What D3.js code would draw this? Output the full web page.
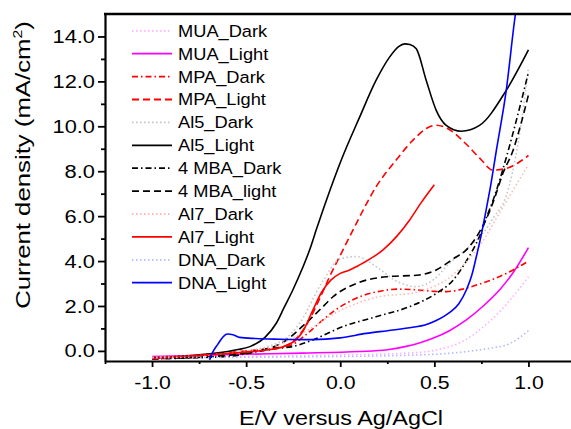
<!DOCTYPE html>
<html><head><meta charset="utf-8">
<script src="https://cdn.jsdelivr.net/npm/d3@7"></script>
<style>body{margin:0;background:#fff}svg{display:block}text{font-family:Arial,"Liberation Sans",sans-serif;fill:#000}</style>
</head><body><svg id="c" width="571" height="429"></svg>
<script>
const xTickValues=[-1.0,-0.5,0.0,0.5,1.0];
const xTickLabels=["-1.0","-0.5","0.0","0.5","1.0"];
const xMinorValues=[-1.25,-0.75,-0.25,0.25,0.75];
const yTickValues=[0,2,4,6,8,10,12,14];
const yTickLabels=["0.0","2.0","4.0","6.0","8.0","10.0","12.0","14.0"];
const yMinorValues=[1,3,5,7,9,11,13];
const xTitle="E/V versus Ag/AgCl";
const seriesNames=["MUA_Dark","MUA_Light","MPA_Dark","MPA_Light","Al5_Dark","Al5_Light","4 MBA_Dark","4 MBA_light","Al7_Dark","Al7_Light","DNA_Dark","DNA_Light"];

// [E (V), J (mA/cm2)]
const muaDark=[[-1.0,-0.3],[-0.5,-0.25],[0.0,-0.18],[0.4,-0.08],[0.55,0.12],[0.65,0.42],[0.74,0.93],[0.83,1.6],[0.917,2.41],[1.0,3.3]];
const muaLight=[[-1.0,-0.25],[-0.5,-0.15],[-0.2,-0.1],[0.1,-0.03],[0.25,0.05],[0.35,0.2],[0.42,0.35],[0.492,0.56],[0.58,0.9],[0.67,1.38],[0.76,2.0],[0.846,2.71],[0.92,3.5],[1.0,4.6]];
const mpaDark=[[-1.0,-0.3],[-0.7,-0.2],[-0.5,-0.05],[-0.35,0.1],[-0.25,0.3],[-0.2,0.6],[-0.15,0.95],[-0.092,1.38],[-0.03,1.8],[0.032,2.12],[0.1,2.4],[0.226,2.68],[0.3,2.75],[0.404,2.72],[0.5,2.65],[0.563,2.64],[0.65,2.75],[0.723,2.93],[0.8,3.15],[0.882,3.45],[0.95,3.75],[1.0,4.0]];
const mpaLight=[[-1.0,-0.3],[-0.7,-0.15],[-0.5,0.0],[-0.4,0.08],[-0.3,0.2],[-0.252,0.4],[-0.2,0.9],[-0.163,1.4],[-0.1,2.5],[-0.057,3.3],[0.014,4.49],[0.085,5.67],[0.19,7.3],[0.297,8.5],[0.4,9.5],[0.457,9.9],[0.51,10.05],[0.57,9.9],[0.67,9.2],[0.75,8.5],[0.81,8.05],[0.87,8.1],[0.95,8.4],[1.0,8.7]];
const al5Dark=[[-1.0,-0.3],[-0.5,0.0],[-0.3,0.5],[-0.216,1.23],[-0.1,3.0],[0.0,4.1],[0.085,4.2],[0.2,3.7],[0.3,3.1],[0.404,2.86],[0.5,3.2],[0.58,3.9],[0.68,4.6],[0.757,5.23],[0.82,6.0],[0.882,6.9],[0.95,9.5],[1.0,12.6]];
const al5Light=[[-1.0,-0.35],[-0.8,-0.22],[-0.66,-0.1],[-0.55,0.05],[-0.48,0.19],[-0.4,0.6],[-0.34,1.23],[-0.3,1.9],[-0.252,2.71],[-0.2,3.7],[-0.163,4.49],[-0.128,5.38],[-0.074,6.7],[0.005,8.49],[0.103,10.41],[0.19,12.04],[0.262,13.08],[0.31,13.55],[0.342,13.67],[0.37,13.64],[0.404,13.45],[0.457,12.04],[0.51,10.71],[0.563,10.04],[0.643,9.78],[0.74,10.04],[0.882,11.6],[1.0,13.4]];
const mbaDark=[[-1.0,-0.35],[-0.6,-0.25],[-0.45,-0.05],[-0.35,0.1],[-0.25,0.2],[-0.146,0.49],[0.014,1.08],[0.19,1.52],[0.368,1.97],[0.51,2.56],[0.6,3.15],[0.67,4.0],[0.705,4.5],[0.74,5.1],[0.775,5.9],[0.82,6.9],[0.882,8.6],[0.94,10.4],[1.0,12.4]];
const mbaLight=[[-1.0,-0.35],[-0.6,-0.2],[-0.45,0.0],[-0.35,0.2],[-0.3,0.4],[-0.2,1.1],[-0.1,1.9],[-0.04,2.4],[0.085,3.0],[0.244,3.3],[0.42,3.38],[0.51,3.6],[0.6,4.1],[0.67,4.5],[0.74,5.3],[0.793,6.2],[0.82,6.8],[0.864,7.9],[0.917,8.9],[0.96,10.1],[1.0,11.4]];
const al7Dark=[[-1.0,-0.3],[-0.4,0.1],[-0.2,0.8],[0.0,1.8],[0.2,2.4],[0.4,2.6],[0.6,3.4],[0.75,4.8],[0.85,6.2],[0.95,7.6],[1.0,8.3]];
const al7Light=[[-1.0,-0.35],[-0.75,-0.2],[-0.5,-0.05],[-0.39,0.04],[-0.3,0.2],[-0.234,0.5],[-0.2,0.85],[-0.146,1.8],[-0.1,2.6],[-0.05,3.15],[0.0,3.45],[0.05,3.6],[0.085,3.75],[0.15,4.05],[0.226,4.49],[0.3,5.1],[0.368,5.82],[0.43,6.6],[0.5,7.4]];
const dnaDark=[[-1.0,-0.3],[0.0,-0.25],[0.5,-0.15],[0.7,0.0],[0.8,0.12],[0.9,0.32],[1.0,0.9]];
const dnaLight=[[-0.694,-0.4],[-0.68,-0.1],[-0.65,0.3],[-0.62,0.65],[-0.6,0.75],[-0.57,0.72],[-0.535,0.6],[-0.45,0.55],[-0.32,0.52],[-0.146,0.5],[0.0,0.58],[0.138,0.78],[0.25,0.9],[0.386,1.05],[0.45,1.15],[0.51,1.35],[0.58,1.7],[0.63,2.1],[0.67,2.71],[0.7,3.4],[0.723,4.19],[0.75,5.2],[0.775,6.27],[0.8,7.4],[0.829,8.9],[0.882,11.6],[0.931,15.0],[0.95,16.0]];

const seriesData=[muaDark,muaLight,mpaDark,mpaLight,al5Dark,al5Light,mbaDark,mbaLight,al7Dark,al7Light,dnaDark,dnaLight];
const styles=[
 {c:"#ffb0ff",d:"1.5,2.5"},
 {c:"#ff00ff",d:null},
 {c:"#ff0000",d:"6,3,1.5,3"},
 {c:"#ff0000",d:"7,4"},
 {c:"#c4c4c4",d:"1.5,2.5"},
 {c:"#000000",d:null},
 {c:"#000000",d:"6,3,1.5,3"},
 {c:"#000000",d:"7,4"},
 {c:"#ffb8b8",d:"1.5,2.5"},
 {c:"#ff0000",d:null},
 {c:"#b8b8ff",d:"1.5,2.5"},
 {c:"#0000ff",d:null}
];

const svg=d3.select("#c");
const x=d3.scaleLinear().domain([-1.25,1.25]).range([105,575.5]);
const y=d3.scaleLinear().domain([-0.45,15]).range([361,14]);

svg.append("clipPath").attr("id","clip").append("rect")
  .attr("x",105).attr("y",14).attr("width",470.5).attr("height",347);

const line=d3.line().x(d=>x(d[0])).y(d=>y(d[1])).curve(d3.curveMonotoneX);
const plot=svg.append("g").attr("clip-path","url(#clip)");
seriesData.forEach((s,i)=>{
  plot.append("path").attr("d",line(s)).attr("fill","none")
    .attr("stroke",styles[i].c).attr("stroke-width",1.6)
    .attr("stroke-dasharray",styles[i].d);
});

// axes
const gx=svg.append("g").attr("transform","translate(0,361)")
  .call(d3.axisBottom(x).tickValues(xTickValues).tickFormat((d,i)=>xTickLabels[i]).tickSize(6).tickSizeOuter(0).tickPadding(9));
svg.append("g").attr("transform","translate(0,361)")
  .call(d3.axisBottom(x).tickValues(xMinorValues).tickFormat("").tickSize(3).tickSizeOuter(0))
  .select(".domain").remove();
const gy=svg.append("g").attr("transform","translate(105,0)")
  .call(d3.axisLeft(y).tickValues(yTickValues).tickFormat((d,i)=>yTickLabels[i]).tickSize(7).tickSizeOuter(0).tickPadding(3));
svg.append("g").attr("transform","translate(105,0)")
  .call(d3.axisLeft(y).tickValues(yMinorValues).tickFormat("").tickSize(4).tickSizeOuter(0))
  .select(".domain").remove();
svg.selectAll(".domain").attr("stroke-width",2.2);
svg.selectAll(".tick line").attr("stroke-width",1.8);
gx.selectAll(".tick text").attr("font-size",19).attr("font-family","Arial, 'Liberation Sans', sans-serif")
  .attr("transform","scale(1.12,1)");
gy.selectAll(".tick text").each(function(){
  const t=d3.select(this); const xx=+t.attr("x");
  t.attr("x",0).attr("transform",`translate(${xx},0) scale(1.15,1)`);
}).attr("font-size",19).attr("font-family","Arial, 'Liberation Sans', sans-serif");
// top frame line
svg.append("line").attr("x1",104).attr("x2",576).attr("y1",y(15)).attr("y2",y(15)).attr("stroke","#000").attr("stroke-width",2.4);

// titles
function fitText(sel,w){const bw=sel.node().getBBox().width; return w/bw;}
const xt=svg.append("text").attr("text-anchor","middle").attr("font-size",19.5).text(xTitle);
const sx=fitText(xt,204);
xt.attr("transform",`translate(341,425) scale(${sx},1)`);

const yt=svg.append("text").attr("text-anchor","middle").attr("font-size",19.5);
yt.append("tspan").text("Current density (mA/cm");
yt.append("tspan").attr("font-size",12).attr("dy",-8).text("2");
yt.append("tspan").attr("dy",8).text(")");
const sy=fitText(yt,288);
yt.attr("transform",`translate(29.5,165) rotate(-90) scale(${sy},1)`);

// legend
const lg=svg.append("g");
seriesNames.forEach((n,i)=>{
  const cy=30.8+22.9*i;
  lg.append("line").attr("x1",132).attr("x2",172).attr("y1",cy).attr("y2",cy)
    .attr("stroke",styles[i].c).attr("stroke-width",1.8).attr("stroke-dasharray",styles[i].d);
  lg.append("text").attr("font-size",16.3).attr("transform",`translate(178,${cy+5.9}) scale(1.12,1)`).text(n);
});
</script></body></html>
